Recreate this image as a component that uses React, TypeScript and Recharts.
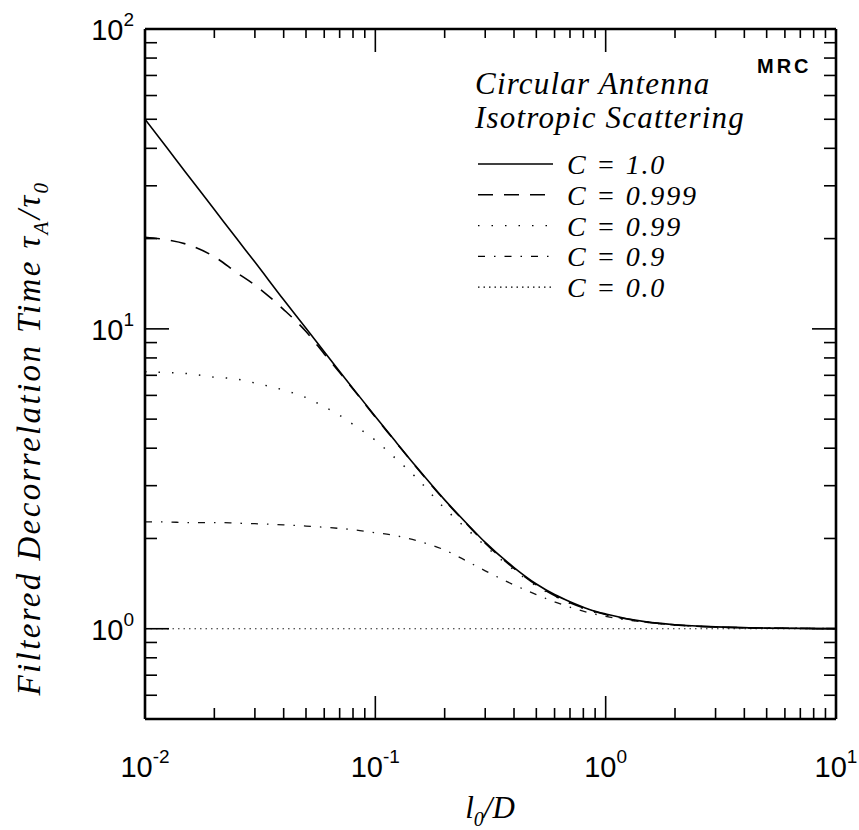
import { LineChart, Line, XAxis, YAxis } from "recharts";

// l0/D sample positions shared by all curves
const xValues = [
  0.01, 0.0125, 0.015, 0.02, 0.025, 0.03, 0.04, 0.05, 0.06, 0.07, 0.08, 0.1,
  0.12, 0.15, 0.2, 0.25, 0.3, 0.4, 0.5, 0.6, 0.7, 0.85, 1, 1.5, 2, 3, 5, 7, 10,
];

// filtered decorrelation time tau_A / tau_0
const c100 = [
  50.0, 40.0, 33.3, 25.0, 20.0, 16.7, 12.5, 10.05, 8.39, 7.21, 6.33, 5.1,
  4.29, 3.48, 2.69, 2.24, 1.94, 1.6, 1.41, 1.3, 1.23, 1.16, 1.12, 1.054, 1.031,
  1.014, 1.005, 1.003, 1.001,
];
const c0999 = [
  20.2, 19.8, 19.2, 17.4, 15.4, 14.0, 11.6, 9.8, 8.25, 7.15, 6.3, 5.08, 4.28,
  3.47, 2.68, 2.23, 1.93, 1.59, 1.4, 1.29, 1.22, 1.155, 1.115, 1.053, 1.03,
  1.013, 1.005, 1.003, 1.001,
];
const c099 = [
  7.2, 7.15, 7.1, 6.9, 6.8, 6.6, 6.25, 5.9, 5.5, 5.15, 4.8, 4.25, 3.75, 3.2,
  2.52, 2.15, 1.89, 1.57, 1.39, 1.285, 1.215, 1.15, 1.11, 1.053, 1.03, 1.013,
  1.005, 1.003, 1.001,
];
const c09 = [
  2.27, 2.27, 2.26, 2.26, 2.25, 2.24, 2.22, 2.2, 2.18, 2.16, 2.14, 2.09, 2.05,
  1.97, 1.83, 1.68, 1.56, 1.4, 1.3, 1.23, 1.18, 1.13, 1.1, 1.05, 1.03, 1.012,
  1.004, 1.002, 1.001,
];
const c00 = [
  1, 1, 1, 1, 1, 1, 1, 1, 1, 1, 1, 1, 1, 1, 1, 1, 1, 1, 1, 1, 1, 1, 1, 1, 1, 1,
  1, 1, 1,
];

const xTicks = [
  0.01, 0.02, 0.03, 0.04, 0.05, 0.06, 0.07, 0.08, 0.09, 0.1, 0.2, 0.3, 0.4,
  0.5, 0.6, 0.7, 0.8, 0.9, 1, 2, 3, 4, 5, 6, 7, 8, 9, 10,
];
const yTicks = [
  0.5, 0.6, 0.7, 0.8, 0.9, 1, 2, 3, 4, 5, 6, 7, 8, 9, 10, 20, 30, 40, 50, 60,
  70, 80, 90, 100,
];

const data = xValues.map((x, i) => ({
  x,
  c100: c100[i],
  c0999: c0999[i],
  c099: c099[i],
  c09: c09[i],
  c00: c00[i],
}));

const SANS = "'Liberation Sans', Arial, sans-serif";
const SERIF = "'Liberation Serif', 'Times New Roman', serif";

const exponent = (v: number) => Math.round(Math.log10(v));
const isMajor = (v: number) =>
  Math.abs(Math.log10(v) - exponent(v)) < 1e-6;

const BottomTick = (p: any) => {
  const { x, y, payload } = p;
  const major = isMajor(payload.value);
  return (
    <g>
      <line x1={x} y1={y} x2={x} y2={y - (major ? 23 : 11)} stroke="#000" strokeWidth={1.6} />
      {major && (
        <text x={x} y={y + 58} textAnchor="middle" fontFamily={SANS} fontSize={29} fill="#000">
          10
          <tspan dy={-14} fontSize={19}>
            {exponent(payload.value)}
          </tspan>
        </text>
      )}
    </g>
  );
};

const TopTick = (p: any) => {
  const { x, y, payload } = p;
  const major = isMajor(payload.value);
  return <line x1={x} y1={y} x2={x} y2={y + (major ? 23 : 9)} stroke="#000" strokeWidth={1.6} />;
};

const LeftTick = (p: any) => {
  const { x, y, payload } = p;
  const major = isMajor(payload.value);
  return (
    <g>
      <line x1={x} y1={y} x2={x + (major ? 24 : 12)} y2={y} stroke="#000" strokeWidth={1.6} />
      {major && (
        <text x={x - 11} y={y + 11} textAnchor="end" fontFamily={SANS} fontSize={29} fill="#000">
          10
          <tspan dy={-14} fontSize={19}>
            {exponent(payload.value)}
          </tspan>
        </text>
      )}
    </g>
  );
};

const RightTick = (p: any) => {
  const { x, y, payload } = p;
  const major = isMajor(payload.value);
  return <line x1={x} y1={y} x2={x - (major ? 24 : 12)} y2={y} stroke="#000" strokeWidth={1.6} />;
};

const legendItems = [
  { label: "C = 1.0", dash: undefined, width: 1.6 },
  { label: "C = 0.999", dash: "15 11", width: 1.5 },
  { label: "C = 0.99", dash: "1.5 12", width: 1.4 },
  { label: "C = 0.9", dash: "7 9 1.5 9", width: 1.3 },
  { label: "C = 0.0", dash: "1.5 4", width: 1.2 },
];

export default function App() {
  return (
    <div style={{ position: "absolute", left: 0, top: 0, width: 859, height: 830, background: "#fff" }}>
      <LineChart
        width={859}
        height={830}
        data={data}
        margin={{ top: 9, right: 3, bottom: 81, left: 115 }}
      >
        <XAxis
          dataKey="x"
          type="number"
          scale="log"
          domain={[0.01, 10]}
          ticks={xTicks}
          interval={0}
          allowDataOverflow
          height={30}
          tickSize={0}
          tickMargin={0}
          tick={<BottomTick />}
          axisLine={{ stroke: "#000", strokeWidth: 2.6 }}
        />
        <XAxis
          xAxisId="top"
          orientation="top"
          dataKey="x"
          type="number"
          scale="log"
          domain={[0.01, 10]}
          ticks={xTicks}
          interval={0}
          allowDataOverflow
          height={20}
          tickSize={0}
          tickMargin={0}
          tick={<TopTick />}
          axisLine={{ stroke: "#000", strokeWidth: 2.6 }}
        />
        <YAxis
          type="number"
          scale="log"
          domain={[0.5, 100]}
          ticks={yTicks}
          interval={0}
          allowDataOverflow
          width={30}
          tickSize={0}
          tickMargin={0}
          tick={<LeftTick />}
          axisLine={{ stroke: "#000", strokeWidth: 2.6 }}
        />
        <YAxis
          yAxisId="right"
          orientation="right"
          type="number"
          scale="log"
          domain={[0.5, 100]}
          ticks={yTicks}
          interval={0}
          allowDataOverflow
          width={20}
          tickSize={0}
          tickMargin={0}
          tick={<RightTick />}
          axisLine={{ stroke: "#000", strokeWidth: 2.6 }}
        />
        <Line dataKey="c00" type="monotone" stroke="#222" strokeWidth={1.2} strokeDasharray="1.5 4" dot={false} isAnimationActive={false} />
        <Line dataKey="c09" type="monotone" stroke="#111" strokeWidth={1.3} strokeDasharray="7 9 1.5 9" dot={false} isAnimationActive={false} />
        <Line dataKey="c099" type="monotone" stroke="#111" strokeWidth={1.5} strokeDasharray="1.5 12" dot={false} isAnimationActive={false} />
        <Line dataKey="c0999" type="monotone" stroke="#000" strokeWidth={1.6} strokeDasharray="15 11" dot={false} isAnimationActive={false} />
        <Line dataKey="c100" type="monotone" stroke="#000" strokeWidth={1.6} dot={false} isAnimationActive={false} />
      </LineChart>

      <svg
        width={859}
        height={830}
        style={{ position: "absolute", left: 0, top: 0, pointerEvents: "none" }}
      >
        <text x={757} y={73} fontFamily={SANS} fontWeight={900} fontSize={20} letterSpacing={3}>
          MRC
        </text>
        <text x={475} y={94} fontFamily={SERIF} fontStyle="italic" fontSize={31} letterSpacing={1.2}>
          Circular Antenna
        </text>
        <text x={475} y={128} fontFamily={SERIF} fontStyle="italic" fontSize={31} letterSpacing={1.2}>
          Isotropic Scattering
        </text>
        {legendItems.map((it, i) => (
          <g key={it.label}>
            <line
              x1={478}
              x2={553}
              y1={164 + i * 30.8}
              y2={164 + i * 30.8}
              stroke="#000"
              strokeWidth={it.width}
              strokeDasharray={it.dash}
            />
            <text x={567} y={174 + i * 30.8} fontFamily={SERIF} fontStyle="italic" fontSize={28} letterSpacing={1.8}>
              {it.label}
            </text>
          </g>
        ))}
        <text
          transform="translate(40 438) rotate(-90)"
          textAnchor="middle"
          fontFamily={SERIF}
          fontStyle="italic"
          fontSize={33}
          letterSpacing={2.4}
        >
          Filtered Decorrelation Time τ
          <tspan dy={8} fontSize={21}>A</tspan>
          <tspan dy={-8}>/τ</tspan>
          <tspan dy={8} fontSize={21}>0</tspan>
        </text>
        <text x={490} y={818} textAnchor="middle" fontFamily={SERIF} fontStyle="italic" fontSize={31}>
          l
          <tspan dy={8} fontSize={20}>0</tspan>
          <tspan dy={-8}>/D</tspan>
        </text>
      </svg>
    </div>
  );
}
